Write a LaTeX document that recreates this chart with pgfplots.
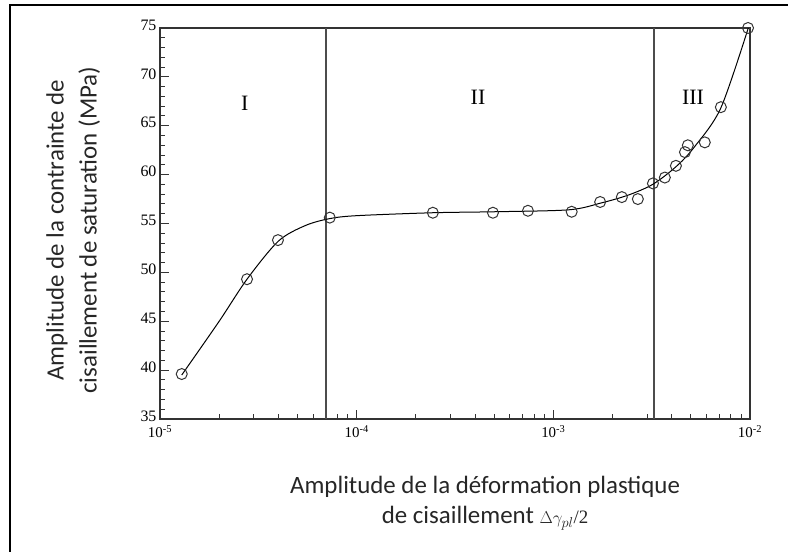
\documentclass[border=0pt]{standalone}
\usepackage{pgfplots}
\pgfplotsset{compat=1.18}
\usepackage{fontspec}
\setmainfont{Carlito}
\newfontfamily\tms{Liberation Serif}

% circles (measured points)
\pgfplotstableread{
x y
1.29e-5 39.6
2.77e-5 49.3
3.98e-5 53.3
7.3e-5 55.6
2.44e-4 56.1
4.93e-4 56.1
7.43e-4 56.3
1.24e-3 56.2
1.73e-3 57.2
2.23e-3 57.7
2.69e-3 57.5
3.21e-3 59.1
3.69e-3 59.7
4.2e-3 60.9
4.67e-3 62.3
4.83e-3 63.0
5.89e-3 63.3
7.11e-3 66.9
9.77e-3 75.0
}\points

% hand-drawn trend curve
\pgfplotstableread{
x y
1.29e-5 39.5
2.0e-5 45.0
2.77e-5 49.3
4.0e-5 53.2
5.5e-5 54.8
7.3e-5 55.5
1.0e-4 55.8
2.44e-4 56.1
5.0e-4 56.2
1.2e-3 56.4
1.75e-3 57.1
2.4e-3 57.9
3.2e-3 59.0
4.2e-3 60.8
5.2e-3 62.8
7.1e-3 66.8
9.8e-3 75.0
}\curve

\begin{document}
\begin{tikzpicture}[x=1bp,y=1bp]
\useasboundingbox (0,0) rectangle (788,552);
\draw[line width=2bp] (10,0) -- (10,547) -- (788,547);
\begin{axis}[
  at={(160bp,133bp)}, anchor=south west,
  scale only axis, width=590bp, height=391bp,
  xmode=log, xmin=1e-5, xmax=1e-2, ymin=35, ymax=75,
  axis lines=box,
  axis line style={line width=1.6bp, black!80},
  tick style={line width=1bp, black!80},
  tick align=inside, xtick pos=bottom, ytick pos=left,
  major tick length=9bp, minor tick length=5bp,
  xtick={1e-5,1e-4,1e-3,1e-2},
  minor xtick={2e-5,3e-5,4e-5,5e-5,6e-5,7e-5,8e-5,9e-5,
    2e-4,3e-4,4e-4,5e-4,6e-4,7e-4,8e-4,9e-4,
    2e-3,3e-3,4e-3,5e-3,6e-3,7e-3,8e-3,9e-3},
  xticklabels={10\textsuperscript{-5},10\textsuperscript{-4},10\textsuperscript{-3},10\textsuperscript{-2}},
  x tick label style={font=\tms\fontsize{15}{15}\selectfont, yshift=-3bp},
  ytick={35,40,...,75}, minor y tick num=4,
  y tick label style={font=\tms\fontsize{16}{16}\selectfont, yshift=3bp},
  /pgf/number format/assume math mode=true,
  xlabel={Amplitude de la déformation plastique\\de cisaillement {\tms\fontsize{19}{19}\selectfont$\Delta\gamma_{pl}$/2}},
  xlabel style={at={(axis description cs:0.551,-0.215)}, anchor=center, align=center,
    font=\fontsize{25}{30}\selectfont, text=black!85},
  ylabel={Amplitude de la contrainte de\\cisaillement de saturation (MPa)},
  ylabel style={at={(axis description cs:-0.147,0.483)}, anchor=center, align=center,
    font=\fontsize{25}{33}\selectfont, text=black!85},
  clip=false,
]
% frame of the plot area
\addplot[black!80, line width=2bp] coordinates {(1e-5,35) (1e-5,75) (1e-2,75) (1e-2,35) (1e-5,35)};
\addplot[black!70, line width=1.4bp] coordinates {(7e-5,35) (7e-5,75)};
\addplot[black!70, line width=1.4bp] coordinates {(3.25e-3,35) (3.25e-3,75)};
\addplot[black, line width=1bp, smooth, tension=0.5] table {\curve};
\addplot[only marks, mark=o, mark size=5.5bp, mark options={line width=1bp, black!80}] table {\points};
\node[font=\tms\fontsize{22}{22}\selectfont] at (axis cs:2.7e-5,67.3) {I};
\node[font=\tms\fontsize{22}{22}\selectfont] at (axis cs:4.14e-4,67.9) {II};
\node[font=\tms\fontsize{22}{22}\selectfont] at (axis cs:5.13e-3,67.9) {III};
\end{axis}
\end{tikzpicture}
\end{document}
